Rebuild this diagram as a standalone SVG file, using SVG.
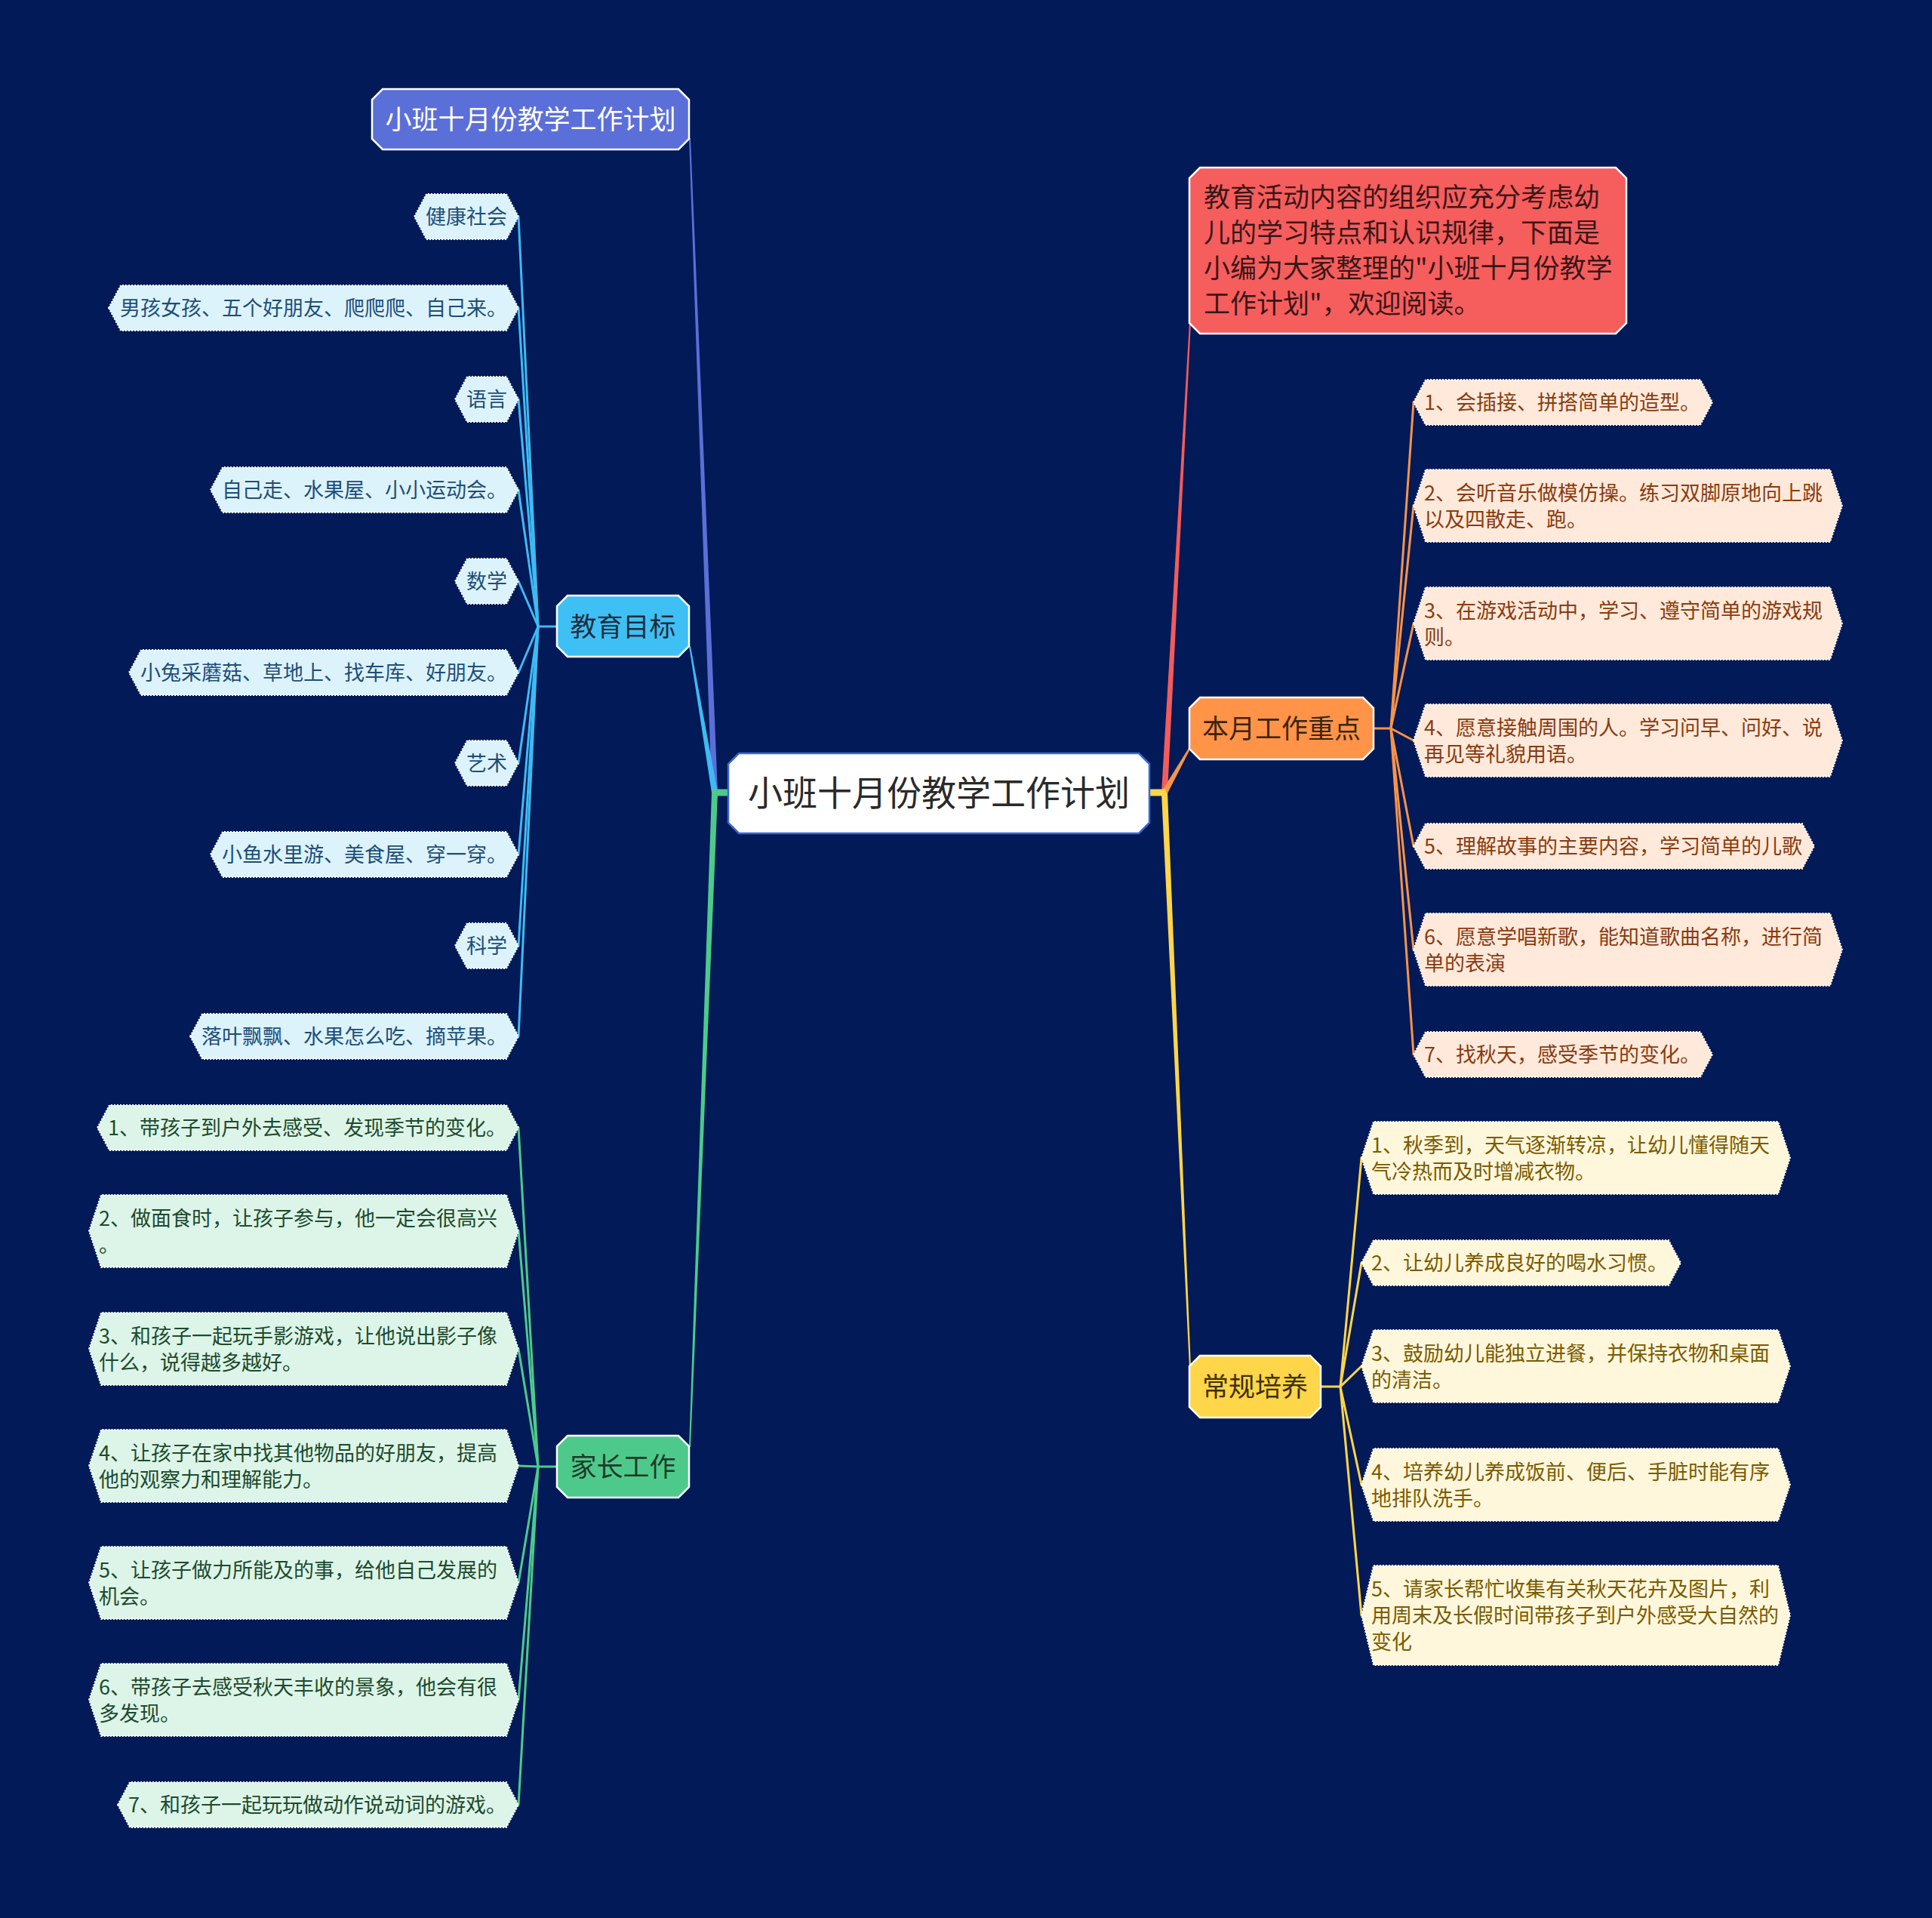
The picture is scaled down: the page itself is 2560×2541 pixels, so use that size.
<svg xmlns="http://www.w3.org/2000/svg" width="2560" height="2541" viewBox="0 0 2560 2541">
<style>
text{font-family:"Noto Sans CJK SC","Noto Sans",sans-serif}
.l1{stroke:#fff;stroke-width:2.5}
.leaf{stroke:#fff;stroke-width:2;stroke-dasharray:2 2}
.t1{font-size:35px;text-anchor:middle}
.tl{font-size:27px}
.sub{fill:none;stroke-width:3;stroke-linecap:round}
.cy{stroke:#3DBBF2}.gr{stroke:#4DCA8B}.or{stroke:#F99349}.ye{stroke:#FFD54A}
.cyl{fill:#DCF3FC}.grl{fill:#DCF5E8}.orl{fill:#FFE9DA}.yel{fill:#FFF7DC}
.cyt{fill:#1E4E79}.grt{fill:#1E4A2E}.ort{fill:#8A3B10}.yet{fill:#7B5B00}
</style>
<rect width="2560" height="2541" fill="#021A57"/>
<g id="connectors">
<polygon points="943,1050 951,1050 915,183 913,183" fill="#5B6FD8"/>
<polygon points="943,1050 951,1050 915,856 913,856" fill="#3DBBF2"/>
<polygon points="943,1050 951,1050 915,1917 913,1917" fill="#4DCA8B"/>
<polygon points="1539,1050 1547,1050 1578,427 1576,427" fill="#F45B5B"/>
<polygon points="1539.5,1048 1576,989.5 1578,990.5 1546.5,1052" fill="#F99349"/>
<polygon points="1539,1050 1547,1050 1578,1812 1576,1812" fill="#FFD54A"/>
<rect x="943" y="1045.5" width="24" height="9" fill="#4DCA8B"/>
<rect x="1521" y="1045.5" width="24" height="9" fill="#FFD54A"/>
<g class="sub cy">
<path d="M738 830H713"/>
<path d="M713 830L687 287"/><path d="M713 830L687 408"/><path d="M713 830L687 529"/><path d="M713 830L687 649"/><path d="M713 830L687 770"/><path d="M713 830L687 891"/><path d="M713 830L687 1011"/><path d="M713 830L687 1132"/><path d="M713 830L687 1253"/><path d="M713 830L687 1373"/>
</g>
<g class="sub gr">
<path d="M738 1943H713"/>
<path d="M713 1943L687 1494"/><path d="M713 1943L687 1631"/><path d="M713 1943L687 1787"/><path d="M713 1943L687 1942"/><path d="M713 1943L687 2097"/><path d="M713 1943L687 2252"/><path d="M713 1943L687 2391"/>
</g>
<g class="sub or">
<path d="M1820 965H1843"/>
<path d="M1843 965L1873 533"/><path d="M1843 965L1873 670"/><path d="M1843 965L1873 826"/><path d="M1843 965L1873 981"/><path d="M1843 965L1873 1121"/><path d="M1843 965L1873 1258"/><path d="M1843 965L1873 1397"/>
</g>
<g class="sub ye">
<path d="M1750 1837H1776"/>
<path d="M1776 1837L1804 1534"/><path d="M1776 1837L1804 1673"/><path d="M1776 1837L1804 1810"/><path d="M1776 1837L1804 1967"/><path d="M1776 1837L1804 2140"/>
</g>
</g>

<g id="root">
<path d="M979 998H1509L1523 1012V1090L1509 1104H979L965 1090V1012Z" fill="#fff" stroke="#3A68D0" stroke-width="2.5"/>
<text x="1244" y="1067" font-size="46" text-anchor="middle" fill="#2a2a2a">小班十月份教学工作计划</text>
</g>

<g id="title">
<path d="M507 118H899L913 132V184L899 198H507L493 184V132Z" fill="#5B6FD8" class="l1"/>
<text x="703" y="170.6" class="t1" fill="#fff">小班十月份教学工作计划</text>
</g>

<g id="intro">
<path d="M1590 222H2141L2155 236V428L2141 442H1590L1576 428V236Z" fill="#F65D5D" class="l1"/>
<text class="tl" font-size="35" style="font-size:35px" fill="#3a1616">
<tspan x="1595" y="273.6">教育活动内容的组织应充分考虑幼</tspan>
<tspan x="1595" y="320.6">儿的学习特点和认识规律，下面是</tspan>
<tspan x="1595" y="367.6">小编为大家整理的"小班十月份教学</tspan>
<tspan x="1595" y="414.6">工作计划"，欢迎阅读。</tspan>
</text>
</g>

<g id="jiaoyumubiao">
<path d="M752 789H899L913 803V856L899 870H752L738 856V803Z" fill="#3FC0F5" class="l1"/>
<text x="825.5" y="842.6" class="t1" fill="#1f2d3d">教育目标</text>
</g>

<g id="jiazhanggongzuo">
<path d="M752 1902H899L913 1916V1970L899 1984H752L738 1970V1916Z" fill="#4DCA8B" class="l1"/>
<text x="825.5" y="1955.6" class="t1" fill="#1e3a2a">家长工作</text>
</g>

<g id="benyue">
<path d="M1590 924H1806L1820 938V992L1806 1006H1590L1576 992V938Z" fill="#FF9348" class="l1"/>
<text x="1698" y="977.6" class="t1" fill="#3b2412">本月工作重点</text>
</g>

<g id="changgui">
<path d="M1590 1796H1736L1750 1810V1864L1736 1878H1590L1576 1864V1810Z" fill="#FFD54A" class="l1"/>
<text x="1663" y="1849.6" class="t1" fill="#3d3000">常规培养</text>
</g>

<!-- 教育目标 leaves -->
<g id="jy1"><path d="M549 287L565 257H671L687 287L671 317H565Z" class="leaf cyl"/><text x="564" y="297" class="tl cyt">健康社会</text></g>
<g id="jy2"><path d="M144 408L160 378H671L687 408L671 438H160Z" class="leaf cyl"/><text x="159" y="418" class="tl cyt">男孩女孩、五个好朋友、爬爬爬、自己来。</text></g>
<g id="jy3"><path d="M603 529L619 499H671L687 529L671 559H619Z" class="leaf cyl"/><text x="618" y="539" class="tl cyt">语言</text></g>
<g id="jy4"><path d="M279 649L295 619H671L687 649L671 679H295Z" class="leaf cyl"/><text x="294" y="659" class="tl cyt">自己走、水果屋、小小运动会。</text></g>
<g id="jy5"><path d="M603 770L619 740H671L687 770L671 800H619Z" class="leaf cyl"/><text x="618" y="780" class="tl cyt">数学</text></g>
<g id="jy6"><path d="M171 891L187 861H671L687 891L671 921H187Z" class="leaf cyl"/><text x="186" y="901" class="tl cyt">小兔采蘑菇、草地上、找车库、好朋友。</text></g>
<g id="jy7"><path d="M603 1011L619 981H671L687 1011L671 1041H619Z" class="leaf cyl"/><text x="618" y="1021" class="tl cyt">艺术</text></g>
<g id="jy8"><path d="M279 1132L295 1102H671L687 1132L671 1162H295Z" class="leaf cyl"/><text x="294" y="1142" class="tl cyt">小鱼水里游、美食屋、穿一穿。</text></g>
<g id="jy9"><path d="M603 1253L619 1223H671L687 1253L671 1283H619Z" class="leaf cyl"/><text x="618" y="1263" class="tl cyt">科学</text></g>
<g id="jy10"><path d="M252 1373L268 1343H671L687 1373L671 1403H268Z" class="leaf cyl"/><text x="267" y="1383" class="tl cyt">落叶飘飘、水果怎么吃、摘苹果。</text></g>

<!-- 家长工作 leaves -->
<g id="jz1"><path d="M129 1494L145 1464H671L687 1494L671 1524H145Z" class="leaf grl"/><text x="143" y="1504" class="tl grt">1、带孩子到户外去感受、发现季节的变化。</text></g>
<g id="jz2"><path d="M118 1631L134 1583H671L687 1631L671 1679H134Z" class="leaf grl"/><text class="tl grt"><tspan x="131" y="1623.5">2、做面食时，让孩子参与，他一定会很高兴</tspan><tspan x="131" y="1658.5">。</tspan></text></g>
<g id="jz3"><path d="M118 1787L134 1739H671L687 1787L671 1835H134Z" class="leaf grl"/><text class="tl grt"><tspan x="131" y="1779.5">3、和孩子一起玩手影游戏，让他说出影子像</tspan><tspan x="131" y="1814.5">什么，说得越多越好。</tspan></text></g>
<g id="jz4"><path d="M118 1942L134 1894H671L687 1942L671 1990H134Z" class="leaf grl"/><text class="tl grt"><tspan x="131" y="1934.5">4、让孩子在家中找其他物品的好朋友，提高</tspan><tspan x="131" y="1969.5">他的观察力和理解能力。</tspan></text></g>
<g id="jz5"><path d="M118 2097L134 2049H671L687 2097L671 2145H134Z" class="leaf grl"/><text class="tl grt"><tspan x="131" y="2089.5">5、让孩子做力所能及的事，给他自己发展的</tspan><tspan x="131" y="2124.5">机会。</tspan></text></g>
<g id="jz6"><path d="M118 2252L134 2204H671L687 2252L671 2300H134Z" class="leaf grl"/><text class="tl grt"><tspan x="131" y="2244.5">6、带孩子去感受秋天丰收的景象，他会有很</tspan><tspan x="131" y="2279.5">多发现。</tspan></text></g>
<g id="jz7"><path d="M156 2391L172 2361H671L687 2391L671 2421H172Z" class="leaf grl"/><text x="170" y="2401" class="tl grt">7、和孩子一起玩玩做动作说动词的游戏。</text></g>

<!-- 本月工作重点 leaves -->
<g id="by1"><path d="M1873 533L1889 503H2253L2269 533L2253 563H1889Z" class="leaf orl"/><text x="1887" y="543" class="tl ort">1、会插接、拼搭简单的造型。</text></g>
<g id="by2"><path d="M1873 670L1889 622H2425L2441 670L2425 718H1889Z" class="leaf orl"/><text class="tl ort"><tspan x="1887" y="662.5">2、会听音乐做模仿操。练习双脚原地向上跳</tspan><tspan x="1887" y="697.5">以及四散走、跑。</tspan></text></g>
<g id="by3"><path d="M1873 826L1889 778H2425L2441 826L2425 874H1889Z" class="leaf orl"/><text class="tl ort"><tspan x="1887" y="818.5">3、在游戏活动中，学习、遵守简单的游戏规</tspan><tspan x="1887" y="853.5">则。</tspan></text></g>
<g id="by4"><path d="M1873 981L1889 933H2425L2441 981L2425 1029H1889Z" class="leaf orl"/><text class="tl ort"><tspan x="1887" y="973.5">4、愿意接触周围的人。学习问早、问好、说</tspan><tspan x="1887" y="1008.5">再见等礼貌用语。</tspan></text></g>
<g id="by5"><path d="M1873 1121L1889 1091H2388L2404 1121L2388 1151H1889Z" class="leaf orl"/><text x="1887" y="1131" class="tl ort">5、理解故事的主要内容，学习简单的儿歌</text></g>
<g id="by6"><path d="M1873 1258L1889 1210H2425L2441 1258L2425 1306H1889Z" class="leaf orl"/><text class="tl ort"><tspan x="1887" y="1250.5">6、愿意学唱新歌，能知道歌曲名称，进行简</tspan><tspan x="1887" y="1285.5">单的表演</tspan></text></g>
<g id="by7"><path d="M1873 1397L1889 1367H2253L2269 1397L2253 1427H1889Z" class="leaf orl"/><text x="1887" y="1407" class="tl ort">7、找秋天，感受季节的变化。</text></g>

<!-- 常规培养 leaves -->
<g id="cg1"><path d="M1804 1534L1820 1486H2356L2372 1534L2356 1582H1820Z" class="leaf yel"/><text class="tl yet"><tspan x="1817" y="1526.5">1、秋季到，天气逐渐转凉，让幼儿懂得随天</tspan><tspan x="1817" y="1561.5">气冷热而及时增减衣物。</tspan></text></g>
<g id="cg2"><path d="M1804 1673L1820 1643H2211L2227 1673L2211 1703H1820Z" class="leaf yel"/><text x="1817" y="1683" class="tl yet">2、让幼儿养成良好的喝水习惯。</text></g>
<g id="cg3"><path d="M1804 1810L1820 1762H2356L2372 1810L2356 1858H1820Z" class="leaf yel"/><text class="tl yet"><tspan x="1817" y="1802.5">3、鼓励幼儿能独立进餐，并保持衣物和桌面</tspan><tspan x="1817" y="1837.5">的清洁。</tspan></text></g>
<g id="cg4"><path d="M1804 1967L1820 1919H2356L2372 1967L2356 2015H1820Z" class="leaf yel"/><text class="tl yet"><tspan x="1817" y="1959.5">4、培养幼儿养成饭前、便后、手脏时能有序</tspan><tspan x="1817" y="1994.5">地排队洗手。</tspan></text></g>
<g id="cg5"><path d="M1804 2140L1820 2074H2356L2372 2140L2356 2206H1820Z" class="leaf yel"/><text class="tl yet"><tspan x="1817" y="2115">5、请家长帮忙收集有关秋天花卉及图片，利</tspan><tspan x="1817" y="2150">用周末及长假时间带孩子到户外感受大自然的</tspan><tspan x="1817" y="2185">变化</tspan></text></g>
</svg>
